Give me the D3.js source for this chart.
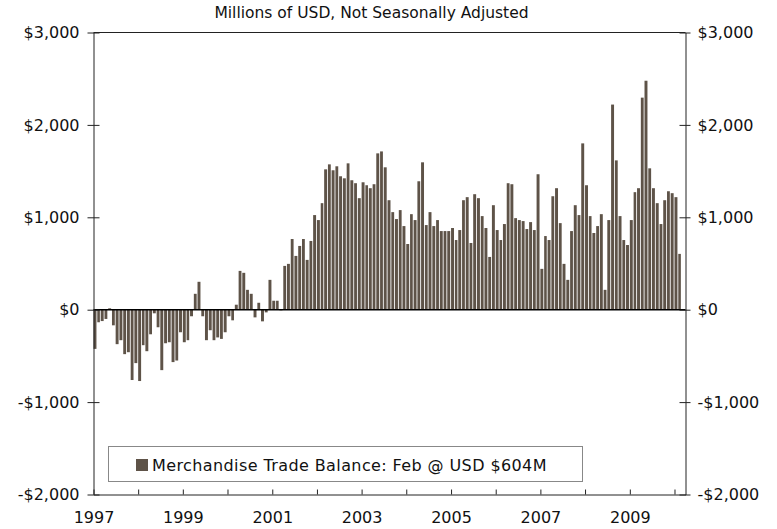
<!DOCTYPE html>
<html>
<head>
<meta charset="utf-8">
<script src="https://cdn.jsdelivr.net/npm/d3@7"></script>
<style>
  body { margin: 0; background: #fff; }
  svg { display: block; font-family: "DejaVu Sans", Verdana, sans-serif; }
</style>
</head>
<body>
<script>
// monthly merchandise trade balance, millions of USD
const years = [1997, 1998, 1999, 2000, 2001, 2002, 2003, 2004, 2005, 2006, 2007, 2008, 2009, 2010]
const bal1997 = [-424, -136, -123, -100, 15, -169, -373, -330, -481, -460, -761, -578]
const bal1998 = [-772, -384, -449, -266, -39, -190, -654, -363, -352, -567, -550, -244]
const bal1999 = [-352, -330, -71, 172, 302, -71, -330, -222, -330, -300, -316, -244]
const bal2000 = [-71, -115, 54, 420, 399, 215, 172, -83, 75, -126, -29, 323]
const bal2001 = [97, 97, -7, 474, 496, 765, 582, 690, 765, 539, 744, 1024]
const bal2002 = [970, 1153, 1519, 1573, 1509, 1552, 1444, 1422, 1584, 1401, 1369, 1207]
const bal2003 = [1379, 1347, 1315, 1358, 1692, 1713, 1541, 1185, 1056, 981, 1078, 905]
const bal2004 = [711, 1034, 970, 1390, 1595, 916, 1056, 905, 970, 851, 851, 851]
const bal2005 = [884, 754, 862, 1185, 1218, 722, 1250, 1207, 1013, 884, 571, 1131]
const bal2006 = [862, 754, 927, 1369, 1358, 991, 970, 959, 873, 948, 862, 1466]
const bal2007 = [442, 797, 754, 1228, 1315, 937, 496, 323, 851, 1131, 1024, 1800]
const bal2008 = [1347, 1013, 830, 905, 1034, 215, 970, 2220, 1616, 1013, 754, 700]
const bal2009 = [970, 1272, 1315, 2295, 2478, 1530, 1315, 1153, 927, 1185, 1282, 1261]
const bal2010 = [1218, 604]

const yTicks = [-2000, -1000, 0, 1000, 2000, 3000]
const subtitle = 'Millions of USD, Not Seasonally Adjusted'
const legendLabel = 'Merchandise Trade Balance: Feb @ USD $604M'

const width = 777
const height = 529
const barColor = '#5e5348'

const byYear = [bal1997, bal1998, bal1999, bal2000, bal2001, bal2002, bal2003,
  bal2004, bal2005, bal2006, bal2007, bal2008, bal2009, bal2010]
const data = byYear.flatMap((vals, i) =>
  vals.map((v, m) => ({ date: new Date(years[i], m, 1), value: v })))

const x = d3.scaleTime()
  .domain([new Date(1997, 0, 1), new Date(2010, 3, 1)])
  .range([93.5, 685.5])
const y = d3.scaleLinear().domain([-2000, 3000]).range([494.5, 32.5])

const money = (d) => (d < 0 ? '-' : '') + '$' + d3.format(',')(Math.abs(d))

const svg = d3.select('body').append('svg')
  .attr('width', width)
  .attr('height', height)

// subtitle
svg.append('text')
  .attr('x', 371.5)
  .attr('y', 18)
  .attr('text-anchor', 'middle')
  .attr('font-size', 15.5)
  .attr('fill', '#111')
  .text(subtitle)

// bars
svg.append('g')
  .selectAll('rect')
  .data(data)
  .enter()
  .append('rect')
  .attr('x', (d) => x(d.date))
  .attr('width', (d) => x(d3.timeMonth.offset(d.date, 1)) - x(d.date) - 0.85)
  .attr('y', (d) => y(Math.max(0, d.value)))
  .attr('height', (d) => Math.abs(y(d.value) - y(0)))
  .attr('fill', barColor)

// zero line
svg.append('line')
  .attr('x1', x.range()[0]).attr('x2', x.range()[1])
  .attr('y1', y(0)).attr('y2', y(0))
  .attr('stroke', '#000')
  .attr('stroke-width', 1.5)

// frame top
svg.append('line')
  .attr('x1', x.range()[0]).attr('x2', x.range()[1])
  .attr('y1', y(3000)).attr('y2', y(3000))
  .attr('stroke', '#222')

// left axis
const left = svg.append('g')
  .attr('transform', `translate(${x.range()[0]},0)`)
  .call(d3.axisLeft(y).tickValues(yTicks).tickSize(6).tickSizeOuter(0).tickPadding(8).tickFormat(money))
left.selectAll('.tick line').attr('x1', 6)

// right axis
const right = svg.append('g')
  .attr('transform', `translate(${x.range()[1]},0)`)
  .call(d3.axisRight(y).tickValues(yTicks).tickSize(5).tickSizeOuter(0).tickPadding(7).tickFormat(money))
right.selectAll('.tick line').attr('x1', -6)

// bottom axis
svg.append('g')
  .attr('transform', `translate(0,${y(-2000)})`)
  .call(d3.axisBottom(x)
    .tickValues(years.map((yr) => new Date(yr, 0, 1)))
    .tickSize(-5)
    .tickSizeOuter(0)
    .tickPadding(17)
    .tickFormat((d) => (d.getFullYear() % 2 ? d.getFullYear() : '')))

svg.selectAll('g[font-family]')
  .attr('font-family', null)
  .attr('font-size', 16)
svg.selectAll('.domain, .tick line').attr('stroke', '#222')
svg.selectAll('.tick text').attr('fill', '#111')

// legend
const legend = svg.append('g')
legend.append('rect')
  .attr('x', 108.5).attr('y', 446.5)
  .attr('width', 474).attr('height', 35)
  .attr('fill', '#fff')
  .attr('stroke', '#888')
legend.append('rect')
  .attr('x', 136).attr('y', 459)
  .attr('width', 12).attr('height', 12)
  .attr('fill', barColor)
legend.append('text')
  .attr('x', 152).attr('y', 471)
  .attr('font-size', 16)
  .attr('letter-spacing', 0.4)
  .attr('fill', '#111')
  .text(legendLabel)
</script>
</body>
</html>
